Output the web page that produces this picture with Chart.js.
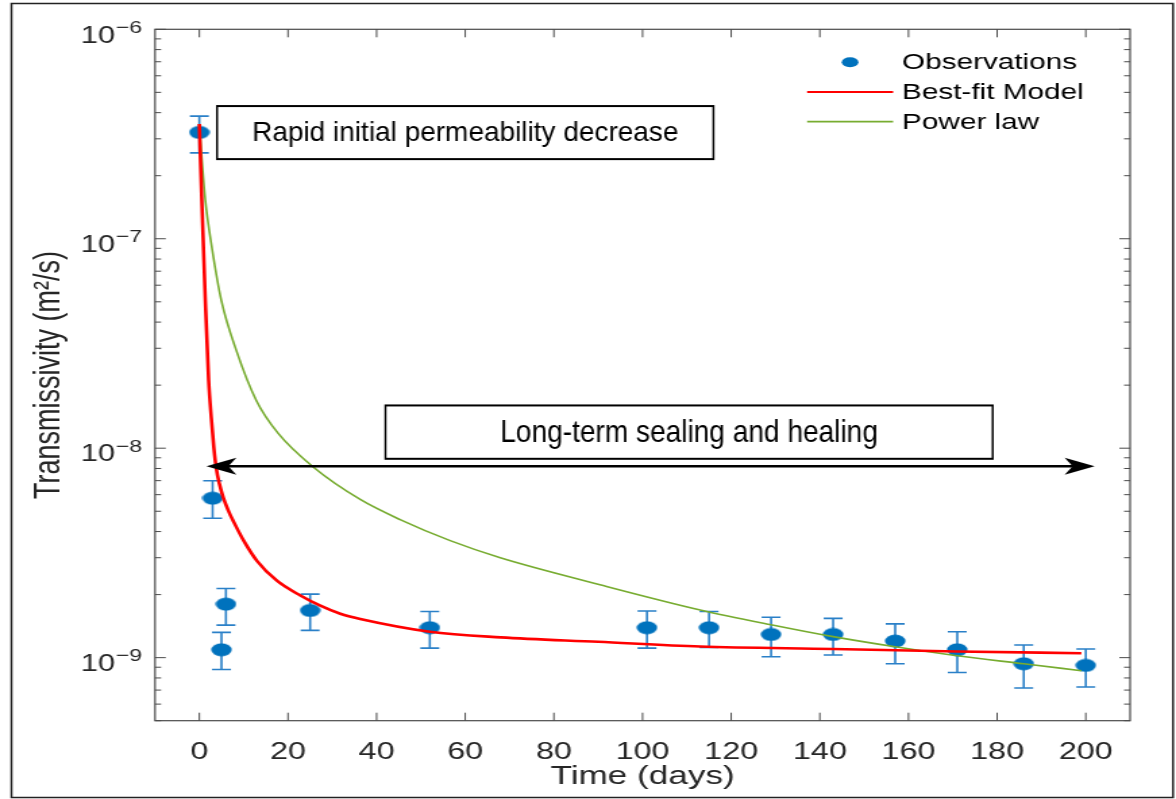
<!DOCTYPE html>
<html>
<head>
<meta charset="utf-8">
<title>Transmissivity vs time</title>
<script src="https://cdn.jsdelivr.net/npm/chart.js@4.4.1/dist/chart.umd.min.js"></script>
<style>
  html, body { margin: 0; padding: 0; background: #fff; overflow: hidden; }
  /* the original figure was widened horizontally, so the whole canvas is stretched */
  #wrap { width: 871px; height: 799px; transform: scaleX(1.350172); transform-origin: 0 0; }
</style>
</head>
<body>
<div id="wrap"><canvas id="transChart" width="871" height="799"></canvas></div>
<script>
const STRETCH = 1176 / 871;

// Observations with error bars (days, m2/s)
const obsDays   = [0, 3, 5, 6, 25, 52, 101, 115, 129, 143, 157, 171, 186, 200];
const obsValues = [3.22e-7, 5.77e-9, 1.09e-9, 1.80e-9, 1.68e-9, 1.39e-9, 1.39e-9, 1.39e-9, 1.29e-9, 1.29e-9, 1.20e-9, 1.09e-9, 9.35e-10, 9.18e-10];
const obsHigh   = [3.85e-7, 6.99e-9, 1.32e-9, 2.14e-9, 2.01e-9, 1.66e-9, 1.67e-9, 1.66e-9, 1.56e-9, 1.54e-9, 1.45e-9, 1.33e-9, 1.15e-9, 1.10e-9];
const obsLow    = [2.57e-7, 4.63e-9, 8.78e-10, 1.43e-9, 1.35e-9, 1.11e-9, 1.11e-9, 1.12e-9, 1.01e-9, 1.03e-9, 9.35e-10, 8.50e-10, 7.16e-10, 7.24e-10];

// Best-fit model curve
const fitDays   = [0, 0.55, 1.35, 2.1, 2.71, 3.27, 3.83, 4.51, 5.41, 6.54, 7.73, 10, 13, 17.5, 22.8, 27.3, 31.8, 36.3, 52, 68, 90, 113, 143, 171, 199];
const fitValues = [3.53e-7, 1.53e-7, 5.08e-8, 2.11e-8, 1.387e-8, 1.008e-8, 8.0e-9, 6.78e-9, 5.81e-9, 5.04e-9, 4.46e-9, 3.62e-9, 2.90e-9, 2.33e-9, 1.98e-9, 1.77e-9, 1.62e-9, 1.53e-9, 1.33e-9, 1.25e-9, 1.19e-9, 1.13e-9, 1.10e-9, 1.07e-9, 1.05e-9];

// Power law curve
const powDays   = [0, 0.41, 1.35, 2.93, 4.96, 8.34, 12.85, 17.8, 25.7, 36.3, 45.3, 56.6, 67.9, 90.4, 113, 129, 143, 157, 171, 186, 199];
const powValues = [3.53e-7, 2.65e-7, 1.53e-7, 8.81e-8, 5.08e-8, 2.93e-8, 1.69e-8, 1.176e-8, 8.13e-9, 5.69e-9, 4.56e-9, 3.62e-9, 3.0e-9, 2.23e-9, 1.69e-9, 1.436e-9, 1.26e-9, 1.127e-9, 1.021e-9, 9.35e-10, 8.66e-10];

// Axis ticks
const xTickValues = [0, 20, 40, 60, 80, 100, 120, 140, 160, 180, 200];
const yTickValues = [1e-9, 1e-8, 1e-7, 1e-6];
const yTickBase = '10';
const yTickPowers = ['−9', '−8', '−7', '−6'];

// Annotations (placed in data coordinates)
const annotBoxes = [
  { text: 'Rapid initial permeability decrease', x0: 4, x1: 116, yTop: 4.3e-7, yBot: 2.4e-7, size: 28, squeeze: 1 },
  { text: 'Long-term sealing and healing', x0: 42, x1: 179, yTop: 1.6e-8, yBot: 8.9e-9, size: 32, squeeze: 0.877 }
];
const arrowSpan = { from: 1.6, to: 202, level: 8.2e-9 };

const FONT = "'Liberation Sans', Arial, Helvetica, sans-serif";
const AXIS_COLOR = '#4a4a4a';
const TEXT_COLOR = '#262626';

function pts(xs, ys) {
  return xs.map((x, i) => ({ x: x, y: ys[i] }));
}

// elliptical marker like the one in the figure
const dotImg = document.createElement('canvas');
dotImg.width = 16;
dotImg.height = 14;
(function() {
  const c = dotImg.getContext('2d');
  c.fillStyle = '#0072BD';
  c.beginPath();
  c.ellipse(8, 7, 7.6, 6.4, 0, 0, Math.PI * 2);
  c.fill();
})();

const figureFrame = {
  id: 'figureFrame',
  beforeDraw(chart) {
    const ctx = chart.ctx;
    ctx.save();
    ctx.fillStyle = '#fff';
    ctx.fillRect(0, 0, chart.width, chart.height);
    ctx.strokeStyle = '#222';
    ctx.lineWidth = 1.5;
    ctx.strokeRect(8.5, 3.5, 860.3, 794);
    ctx.restore();
  }
};

const errorBars = {
  id: 'errorBars',
  beforeDatasetsDraw(chart) {
    const ctx = chart.ctx;
    const y = chart.scales.y;
    const meta = chart.getDatasetMeta(0);
    ctx.save();
    ctx.strokeStyle = '#2a80c8';
    ctx.lineWidth = 1.6;
    meta.data.forEach((pt, i) => {
      const top = y.getPixelForValue(obsHigh[i]);
      const bot = y.getPixelForValue(obsLow[i]);
      ctx.beginPath();
      ctx.moveTo(pt.x, top); ctx.lineTo(pt.x, bot);
      ctx.moveTo(pt.x - 7, top); ctx.lineTo(pt.x + 7, top);
      ctx.moveTo(pt.x - 7, bot); ctx.lineTo(pt.x + 7, bot);
      ctx.stroke();
    });
    ctx.restore();
  }
};

// box round the axes with inward ticks (matlab style)
const axesBox = {
  id: 'axesBox',
  afterDatasetsDraw(chart) {
    const { ctx, chartArea: a, scales: { x, y } } = chart;
    ctx.save();
    ctx.strokeStyle = AXIS_COLOR;
    ctx.lineWidth = 1.2;
    ctx.strokeRect(a.left, a.top, a.right - a.left, a.bottom - a.top);
    ctx.lineWidth = 1;
    ctx.beginPath();
    x.ticks.forEach(t => {
      const px = x.getPixelForValue(t.value);
      ctx.moveTo(px, a.bottom); ctx.lineTo(px, a.bottom - 8);
      ctx.moveTo(px, a.top); ctx.lineTo(px, a.top + 8);
    });
    for (let e = Math.floor(Math.log10(y.min)); e <= Math.ceil(Math.log10(y.max)); e++) {
      for (let m = 1; m <= 9; m++) {
        const v = m * Math.pow(10, e);
        if (v < y.min * 0.999 || v > y.max * 1.001) continue;
        const py = y.getPixelForValue(v);
        const len = m === 1 ? 8 : 4.5;
        ctx.moveTo(a.left, py); ctx.lineTo(a.left + len, py);
        ctx.moveTo(a.right, py); ctx.lineTo(a.right - len, py);
      }
    }
    ctx.stroke();
    ctx.restore();
  }
};

// 10 with a raised exponent at each decade
const logTickLabels = {
  id: 'logTickLabels',
  afterDraw(chart) {
    const { ctx, chartArea: a, scales: { y } } = chart;
    const right = a.left - 9.6;
    ctx.save();
    ctx.fillStyle = TEXT_COLOR;
    ctx.textBaseline = 'alphabetic';
    ctx.textAlign = 'right';
    yTickValues.forEach((v, i) => {
      const py = y.getPixelForValue(v);
      ctx.font = '17px ' + FONT;
      const ew = ctx.measureText(yTickPowers[i]).width;
      ctx.fillText(yTickPowers[i], right, py + 3.4);
      ctx.font = '23px ' + FONT;
      ctx.fillText(yTickBase, right - ew - 0.5, py + 13.2);
    });
    ctx.restore();
  }
};

// text boxes and the double arrow, drawn in screen pixels so they are not stretched
const annotations = {
  id: 'annotations',
  afterDraw(chart) {
    const { ctx, scales: { x, y } } = chart;
    const S = STRETCH;
    ctx.save();
    ctx.scale(1 / S, 1);

    const ay = y.getPixelForValue(arrowSpan.level);
    const ax0 = x.getPixelForValue(arrowSpan.from) * S;
    const ax1 = x.getPixelForValue(arrowSpan.to) * S;
    ctx.strokeStyle = '#000';
    ctx.fillStyle = '#000';
    ctx.lineWidth = 2.5;
    ctx.beginPath();
    ctx.moveTo(ax0 + 20, ay);
    ctx.lineTo(ax1 - 20, ay);
    ctx.stroke();
    [[ax0, 1], [ax1, -1]].forEach(([tip, dir]) => {
      ctx.beginPath();
      ctx.moveTo(tip, ay);
      ctx.lineTo(tip + dir * 30, ay - 8.5);
      ctx.lineTo(tip + dir * 22, ay);
      ctx.lineTo(tip + dir * 30, ay + 8.5);
      ctx.closePath();
      ctx.fill();
    });

    annotBoxes.forEach(b => {
      const l = x.getPixelForValue(b.x0) * S;
      const r = x.getPixelForValue(b.x1) * S;
      const t = y.getPixelForValue(b.yTop);
      const bt = y.getPixelForValue(b.yBot);
      ctx.fillStyle = '#fff';
      ctx.fillRect(l, t, r - l, bt - t);
      ctx.lineWidth = 2;
      ctx.strokeStyle = '#000';
      ctx.strokeRect(l, t, r - l, bt - t);
      ctx.save();
      ctx.translate((l + r) / 2, (t + bt) / 2 + 1);
      ctx.scale(b.squeeze, 1);
      ctx.fillStyle = '#000';
      ctx.font = b.size + 'px ' + FONT;
      ctx.textAlign = 'center';
      ctx.textBaseline = 'middle';
      ctx.fillText(b.text, 0, 0);
      ctx.restore();
    });
    ctx.restore();
  }
};

const figureLegend = {
  id: 'figureLegend',
  afterDraw(chart) {
    const ctx = chart.ctx;
    ctx.save();
    ctx.font = '22px ' + FONT;
    ctx.textBaseline = 'middle';
    ctx.textAlign = 'left';
    chart.data.datasets.forEach((ds, i) => {
      const yy = 62.3 + i * 29.7;
      if (ds.showLine === false) {
        ctx.fillStyle = '#0072BD';
        ctx.beginPath();
        ctx.ellipse(629.6, yy, 6.2, 5, 0, 0, Math.PI * 2);
        ctx.fill();
      } else {
        ctx.strokeStyle = ds.borderColor;
        ctx.lineWidth = 1.8;
        ctx.beginPath();
        ctx.moveTo(597.8, yy);
        ctx.lineTo(661.5, yy);
        ctx.stroke();
      }
      ctx.fillStyle = '#000';
      ctx.fillText(ds.label, 668.1, yy + 1);
    });
    ctx.restore();
  }
};

new Chart(document.getElementById('transChart'), {
  type: 'line',
  data: {
    datasets: [
      {
        label: 'Observations',
        data: pts(obsDays, obsValues),
        showLine: false,
        pointStyle: dotImg,
        pointRadius: 7,
        pointHoverRadius: 7,
        order: 3
      },
      {
        label: 'Best-fit Model',
        data: pts(fitDays, fitValues),
        borderColor: '#ff0000',
        borderWidth: 2.6,
        pointRadius: 0,
        cubicInterpolationMode: 'monotone',
        fill: false,
        order: 1
      },
      {
        label: 'Power law',
        data: pts(powDays, powValues),
        borderColor: '#77ac30',
        borderWidth: 1.6,
        pointRadius: 0,
        cubicInterpolationMode: 'monotone',
        fill: false,
        order: 2
      }
    ]
  },
  options: {
    responsive: false,
    animation: false,
    events: [],
    layout: { padding: { top: 29.3, right: 34, bottom: 0, left: 0 } },
    plugins: {
      legend: { display: false },
      tooltip: { enabled: false }
    },
    scales: {
      x: {
        type: 'linear',
        min: -10,
        max: 210,
        afterBuildTicks: s => { s.ticks = xTickValues.map(v => ({ value: v })); },
        afterFit: s => { s.height = 78.3; },
        grid: { display: false },
        border: { display: false },
        ticks: {
          font: { family: FONT, size: 24 },
          color: TEXT_COLOR,
          padding: 9.4,
          maxRotation: 0,
          callback: v => String(v)
        },
        title: {
          display: true,
          text: 'Time (days)',
          font: { family: FONT, size: 26 },
          color: TEXT_COLOR,
          padding: { top: 0, bottom: 6.4 }
        }
      },
      y: {
        type: 'logarithmic',
        min: 5e-10,
        max: 1e-6,
        afterBuildTicks: s => { s.ticks = yTickValues.map(v => ({ value: v, major: true })); },
        afterFit: s => { s.width = 114.8; },
        grid: { display: false },
        border: { display: false },
        ticks: { display: false },
        title: {
          display: true,
          text: 'Transmissivity (m²/s)',
          font: { family: FONT, size: 27 },
          color: TEXT_COLOR,
          padding: { top: 20.8, bottom: 0 }
        }
      }
    }
  },
  plugins: [figureFrame, errorBars, axesBox, logTickLabels, annotations, figureLegend]
});
</script>
</body>
</html>
